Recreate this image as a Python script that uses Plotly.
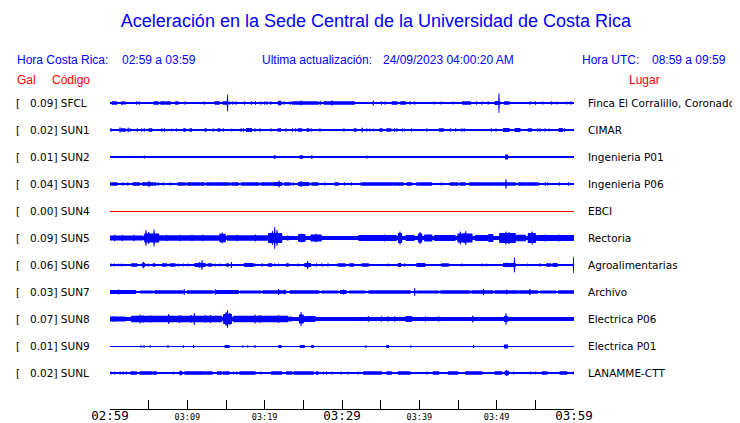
import numpy as np
import plotly.graph_objects as go

# ---------------- data ----------------
stations = ["SFCL", "SUN1", "SUN2", "SUN3", "SUN4", "SUN5", "SUN6", "SUN7", "SUN8", "SUN9", "SUNL"]
pga_gal = ["0.09", "0.02", "0.01", "0.04", "0.00", "0.09", "0.06", "0.03", "0.07", "0.01", "0.02"]
places = ["Finca El Corralillo, Coronado", "CIMAR", "Ingenieria P01", "Ingenieria P06", "EBCI",
          "Rectoria", "Agroalimentarias", "Archivo", "Electrica P06", "Electrica P01", "LANAMME-CTT"]

# background (quiet) half-amplitude of each trace, in trace units
base_amp = [1.0, 1.0, 1.0, 1.0, 0.5, 2.0, 1.0, 1.0, 2.0, 0.5, 1.0]

# bursts read from the record: [start minute, end minute, half-amplitude]
ev_SFCL = [[0.3,0.86,1.7],[1.5,1.7,1.7],[1.94,1.94,1.7],[3.45,3.45,1.8],[3.8,3.8,1.8],[5.7,6.25,1.7],
           [6.6,7.1,1.7],[7.3,7.8,1.7],[8.5,8.8,1.7],[9.7,9.7,1.8],[12.2,12.2,1.8],[13.6,14.1,1.7],
           [14.65,15.1,1.7],[15.2,15.2,8.5],[15.5,15.5,1.8],[15.9,15.9,1.8],[16.3,16.3,1.8],[17.4,17.4,1.8],
           [18.3,18.3,1.8],[18.8,18.8,1.8],[19.5,19.5,1.8],[20.0,20.0,1.8],[20.3,20.3,1.8],[20.8,20.8,1.8],
           [21.8,22.1,2.2],[22.5,22.5,1.8],[23.3,23.3,1.8],[23.6,26.9,1.7],[24.7,24.7,2.5],[27.2,27.2,2.3],
           [27.7,31.6,1.7],[28.7,28.7,2.8],[34.05,34.05,2.4],[35.1,35.1,1.8],[35.6,35.6,1.8],[36.5,37.1,1.7],
           [37.6,38.2,1.7],[38.8,38.8,1.8],[39.4,39.4,1.8],[41.9,41.9,1.5],[42.8,42.8,1.5],[44.4,44.4,1.5],
           [45.6,46.6,1.7],[47.4,47.4,1.8],[48.1,48.1,1.8],[48.9,48.9,1.8],[49.8,50.4,2.0],[50.3,50.3,10.0],
           [51.0,51.6,1.7],[54.3,54.3,1.8],[55.0,55.0,1.8],[56.0,56.0,1.5],[57.1,57.1,1.8],[57.8,57.8,1.5],
           [59.05,59.05,1.5],[59.6,59.6,1.8]]
ev_SUN1 = [[0.13,0.13,1.8],[1.29,1.29,2.7],[1.5,1.94,1.7],[2.37,2.37,2.5],[2.59,2.59,1.8],[3.53,3.53,2.2],
           [4.09,4.09,1.8],[4.44,4.44,1.8],[5.04,5.39,1.7],[6.68,6.68,1.8],[7.03,7.03,1.8],[7.97,7.97,1.5],
           [8.62,8.62,1.5],[9.57,9.78,1.7],[10.34,10.56,1.7],[12.28,12.28,1.8],[12.41,12.41,1.8],
           [13.36,13.36,1.8],[14.0,14.2,1.7],[14.66,14.66,1.8],[15.73,15.73,1.5],[16.94,16.94,1.8],
           [17.24,17.24,1.8],[17.67,18.32,2.0],[18.75,18.75,1.8],[19.4,19.4,1.8],[20.78,20.78,1.8],
           [21.77,22.03,1.7],[22.76,22.76,1.8],[23.62,23.62,1.8],[24.0,24.0,1.8],[24.35,24.78,1.7],
           [25.5,25.7,1.7],[26.0,26.0,1.8],[27.16,27.16,1.8],[30.26,30.26,1.8],[31.6,31.8,1.7],
           [32.6,32.6,2.5],[33.2,33.2,1.8],[33.6,33.6,1.5],[34.05,34.05,1.5],[34.9,35.2,1.7],[35.8,36.3,1.7],
           [36.8,36.8,1.8],[37.1,37.1,1.8],[37.8,37.8,1.8],[38.1,38.1,1.5],[39.0,39.0,1.8],[40.95,40.95,1.8],
           [42.6,43.1,1.7],[44.0,44.0,1.8],[44.7,44.7,1.8],[45.5,45.5,1.8],[45.8,45.8,1.8],[49.3,49.3,1.8],
           [49.9,49.9,1.5],[50.9,51.6,2.0],[52.4,53.0,2.0],[54.1,54.5,1.7],[55.3,55.3,1.8],[55.6,55.6,1.8],
           [56.25,56.25,1.8],[56.8,56.8,1.5],[58.1,58.5,2.0],[58.8,58.8,1.8]]
ev_SUN2 = [[4.44,4.44,1.6],[21.25,21.35,1.8],[24.6,24.9,1.8],[26.1,26.1,1.9],[33.2,33.2,1.4],[51.15,51.4,2.5]]
ev_SUN3 = [[0.1,0.9,1.7],[1.7,1.7,1.8],[2.3,2.3,1.8],[3.0,3.8,1.7],[4.2,5.9,1.8],[5.05,5.05,3.0],
           [6.25,6.25,1.8],[6.9,6.9,1.8],[7.8,7.8,1.8],[8.8,9.7,1.7],[10.0,12.2,1.7],[12.5,13.4,1.7],
           [13.6,15.4,1.7],[15.7,16.6,1.7],[17.0,19.2,1.7],[19.5,20.9,1.7],[21.1,22.2,2.0],[21.85,21.85,3.5],
           [22.6,23.3,1.7],[23.7,23.7,1.8],[24.4,25.7,2.0],[24.7,24.7,3.0],[26.1,26.9,1.8],[27.8,27.8,1.8],
           [29.1,29.5,1.7],[30.3,30.3,1.8],[31.25,31.25,1.8],[32.5,33.8,1.7],[33.95,36.4,1.7],[36.6,37.9,1.7],
           [38.4,39.0,1.7],[39.7,41.6,1.7],[42.9,42.9,1.8],[44.0,45.0,1.7],[45.3,45.9,1.7],[46.5,48.5,1.7],
           [48.7,49.6,1.7],[49.8,52.4,1.8],[51.2,51.2,5.0],[52.8,53.7,1.7],[53.9,55.2,1.7],[55.4,55.4,1.8],
           [56.3,56.3,1.8],[56.6,56.6,1.8],[58.1,58.1,1.8],[59.3,59.3,1.8]]
ev_SUN4 = []
ev_SUN5 = [[0.0,4.2,2.6],[0.6,0.6,3.2],[1.6,1.6,3.2],[3.1,3.1,3.2],[4.5,6.3,4.5],[4.65,4.65,8.0],
           [5.0,5.0,6.0],[5.7,5.7,8.5],[6.5,14.0,2.7],[7.3,7.3,3.3],[9.0,9.0,3.2],[10.6,10.6,3.3],
           [12.0,12.0,3.3],[14.2,14.9,4.2],[14.5,14.5,5.5],[15.2,20.3,2.8],[16.4,16.4,3.3],[18.8,18.8,3.5],
           [20.5,22.2,5.0],[21.0,21.0,7.0],[21.3,21.3,11.0],[21.6,21.6,8.0],[23.0,23.0,2.8],[24.4,25.2,4.0],
           [24.8,24.8,4.5],[26.0,27.3,3.5],[26.6,26.6,4.2],[32.2,37.0,3.0],[33.0,33.0,3.3],[35.5,35.5,3.4],
           [37.3,37.7,5.0],[37.5,37.5,6.5],[38.3,39.3,3.0],[39.9,40.3,4.5],[40.1,40.1,6.0],[40.7,41.6,3.5],
           [42.0,44.6,3.0],[45.0,46.8,4.5],[45.3,45.3,6.5],[45.8,45.8,5.0],[46.0,46.0,7.0],[47.3,48.9,3.0],
           [49.0,49.5,4.0],[50.4,52.4,5.0],[51.2,51.2,6.5],[51.6,51.6,6.0],[52.6,53.7,3.2],[54.1,55.0,5.0],
           [54.6,54.6,6.5],[55.2,60.0,3.0],[56.3,56.3,3.5],[58.0,58.0,3.5]]
ev_SUN6 = [[0.13,0.13,1.6],[0.56,0.56,1.6],[1.08,1.08,1.6],[1.5,1.5,1.6],[2.8,3.45,1.8],[4.2,4.5,2.0],
           [4.3,4.3,3.2],[4.95,4.95,1.6],[5.6,5.8,1.8],[6.8,7.3,1.8],[7.8,8.4,1.8],[8.8,8.8,1.6],
           [9.5,9.5,1.6],[10.1,10.1,1.6],[11.0,12.3,2.0],[11.9,11.9,5.0],[11.6,11.6,3.0],[12.7,13.1,1.8],
           [13.6,13.6,1.6],[14.2,14.2,1.6],[15.1,15.3,1.8],[15.7,15.7,3.0],[17.4,18.5,1.9],[18.75,18.75,1.6],
           [19.7,19.7,1.8],[20.5,20.9,1.8],[21.3,21.3,1.6],[21.8,21.8,1.6],[22.85,23.06,1.8],[24.3,24.3,1.6],
           [25.2,25.9,2.0],[25.55,25.55,4.0],[26.7,26.7,1.8],[27.4,27.4,1.8],[28.2,28.2,1.8],[29.5,30.4,1.8],
           [31.0,31.5,1.8],[32.6,33.4,1.8],[36.0,36.0,1.6],[37.3,37.6,1.9],[38.1,38.1,1.8],[39.7,40.7,1.9],
           [42.9,43.75,1.8],[45.5,45.5,1.4],[48.1,48.1,1.6],[48.7,48.7,1.6],[50.9,52.4,1.9],[51.3,51.3,2.5],
           [52.3,52.3,7.5],[54.0,54.0,1.5],[55.6,55.6,1.8],[56.5,57.0,1.8],[57.3,57.8,1.9],[59.93,59.93,8.0]]
ev_SUN7 = [[0.0,3.3,1.9],[1.1,1.1,2.5],[4.0,5.5,1.6],[5.8,9.4,1.8],[9.6,9.6,3.0],[10.0,13.3,1.7],
           [13.6,13.6,3.0],[13.8,16.6,1.9],[16.9,19.5,1.6],[19.8,22.7,1.8],[21.8,21.8,3.0],[22.6,22.6,2.5],
           [23.3,27.0,1.7],[27.4,29.5,1.6],[29.8,30.5,2.0],[30.2,30.2,2.6],[31.0,33.0,1.6],[33.5,38.8,1.8],
           [39.4,39.4,4.0],[39.7,42.5,1.6],[42.8,46.5,1.7],[46.8,49.5,1.8],[48.3,48.3,3.2],[49.8,52.8,1.8],
           [51.3,51.3,2.5],[53.0,55.3,1.8],[54.3,54.3,3.2],[55.7,57.6,1.6],[58.0,60.0,1.8]]
ev_SUN8 = [[0.0,1.9,2.6],[0.5,0.5,3.0],[2.8,14.4,3.2],[3.9,3.9,4.5],[4.3,4.3,3.8],[5.3,5.3,3.8],
           [7.6,7.6,5.0],[9.0,9.0,4.0],[10.5,10.5,4.0],[10.9,10.9,6.0],[12.3,12.3,4.0],[13.0,13.0,4.0],
           [14.7,15.7,5.0],[15.2,15.2,9.0],[15.0,15.0,7.0],[15.5,15.5,6.0],[16.0,23.0,3.3],[18.75,18.75,4.5],
           [19.4,19.4,4.0],[21.8,21.8,4.0],[23.4,23.4,3.0],[24.5,25.0,4.5],[24.7,24.7,7.0],[25.2,26.5,3.0],
           [33.4,33.4,3.0],[35.1,35.1,2.8],[35.9,35.9,2.8],[36.8,36.8,2.8],[38.3,39.0,3.0],[40.8,40.8,2.8],
           [42.5,42.5,2.8],[46.9,46.9,3.5],[51.2,51.2,6.0],[51.0,51.4,3.0]]
ev_SUN9 = [[4.0,4.0,1.3],[4.4,4.4,1.3],[5.2,5.2,1.3],[7.5,7.5,1.5],[9.5,9.5,1.2],[10.8,10.8,1.5],
           [14.9,15.4,1.6],[17.2,17.2,1.3],[17.8,17.8,1.3],[18.75,18.75,1.5],[21.85,22.1,1.6],[24.6,25.1,1.6],
           [26.1,26.3,1.6],[33.1,33.1,1.2],[35.8,36.0,1.6],[38.9,38.9,1.2],[47.0,47.0,1.4],[51.0,51.4,2.0]]
ev_SUNL = [[0.13,0.13,1.6],[0.56,0.56,1.6],[1.3,1.3,1.6],[1.72,1.72,1.6],[2.15,2.15,1.6],[2.7,3.4,1.7],
           [3.9,5.4,1.7],[5.6,6.0,1.7],[8.2,8.2,1.5],[9.0,9.3,1.7],[9.15,9.15,2.6],[9.7,12.3,1.7],
           [12.5,13.2,1.7],[13.9,14.4,1.7],[14.65,15.4,1.7],[15.95,15.95,1.6],[16.4,16.4,1.6],[16.8,18.75,1.7],
           [19.5,19.5,1.6],[20.9,22.2,1.7],[22.85,23.5,1.7],[23.8,26.3,1.8],[26.7,26.9,1.7],[27.6,27.6,1.6],
           [28.0,28.0,1.6],[28.7,28.7,1.6],[29.9,29.9,1.6],[30.8,30.8,1.6],[32.1,32.1,1.6],[32.8,35.1,1.7],
           [35.8,36.4,1.7],[37.3,38.8,1.7],[41.0,41.0,1.5],[41.8,42.5,1.7],[43.75,44.95,1.7],[46.0,48.1,1.7],
           [49.8,50.65,1.7],[51.1,51.5,2.2],[51.3,51.3,3.0],[52.2,52.2,1.6],[54.4,54.4,1.6],[55.0,55.0,1.6],
           [55.9,56.5,1.7],[58.2,59.05,1.7],[59.9,59.9,1.6]]
events = [ev_SFCL, ev_SUN1, ev_SUN2, ev_SUN3, ev_SUN4, ev_SUN5, ev_SUN6, ev_SUN7, ev_SUN8, ev_SUN9, ev_SUNL]

tick_minutes = list(range(0, 61, 5))
tick_labels = ["02:59", "", "03:09", "", "03:19", "", "03:29", "", "03:39", "", "03:49", "", "03:59"]
big_labels = ["02:59", "03:29", "03:59"]

# ---------------- styling / layout ----------------
trace_colors = ["#0000ff"] * 4 + ["#ff0000"] + ["#0000ff"] * 6
pixel_snap = [0, 0, 0, 0, 0.5, 0, 0, 0, 0, 0.5, 0]   # keeps 1 px lines on a pixel row

OFF = 8                       # page body margin of the browser
W, H = 740 - OFF, 423 - OFF
ML, MT = 110 - OFF, 88 - OFF
PW, PH = 464, 321
MR = W - ML - PW
MB = H - MT - PH
SPACING = 27
FIRST = 15

t = np.arange(0, 60.0001, 0.05)
fig = go.Figure()
for i, st in enumerate(stations):
    y0 = -(FIRST + SPACING * i) - pixel_snap[i]
    env = np.full_like(t, base_amp[i])
    for s, e, a in events[i]:
        m = (t >= s - 0.07) & (t <= e + 0.07)
        env[m] = np.maximum(env[m], a)
    xs = np.concatenate([t, t[::-1]])
    ys = np.concatenate([y0 + env, (y0 - env)[::-1]])
    fig.add_trace(go.Scatter(x=xs, y=ys, fill="toself", fillcolor=trace_colors[i],
                             mode="lines", line=dict(width=0, color=trace_colors[i], simplify=False),
                             hoverinfo="skip", showlegend=False))

def px_x(p):
    return (p - OFF - ML) / PW

def px_y(p):
    return (H - MB - (p - OFF)) / PH

ann = []
lab_font = dict(family="DejaVu Sans", size=10.5, color="black")
for i, st in enumerate(stations):
    y0 = -(FIRST + SPACING * i) + 0.5
    ann.append(dict(x=px_x(14), y=y0, xref="paper", yref="y", text="[", showarrow=False,
                    xanchor="left", yanchor="middle", font=lab_font))
    ann.append(dict(x=px_x(28), y=y0, xref="paper", yref="y", text=f"{pga_gal[i]}] {st}",
                    showarrow=False, xanchor="left", yanchor="middle", font=lab_font))
    ann.append(dict(x=px_x(586), y=y0, xref="paper", yref="y", text=places[i], showarrow=False,
                    xanchor="left", yanchor="middle", font=lab_font))

hdr = dict(family="Liberation Sans, Arial", size=12, color="#0000ff")
red = dict(family="Liberation Sans, Arial", size=12, color="#ff0000")
for txt, px, py, f in [("Hora Costa Rica:", 15, 60, hdr), ("02:59 a 03:59", 120, 60, hdr),
                       ("Ultima actualización:", 260, 60, hdr), ("24/09/2023 04:00:20 AM", 381, 60, hdr),
                       ("Hora UTC:", 580, 60, hdr), ("08:59 a 09:59", 650, 60, hdr),
                       ("Gal", 15, 80, red), ("Código", 50, 80, red), ("Lugar", 627, 80, red)]:
    ann.append(dict(x=px_x(px), y=px_y(py), xref="paper", yref="paper", text=txt, showarrow=False,
                    xanchor="left", yanchor="middle", font=f))

ticktext = [f'<span style="font-size:12.5px">{s}</span>' if s in big_labels else s for s in tick_labels]

fig.update_layout(
    width=W, height=H,
    margin=dict(l=ML, r=MR, t=MT, b=MB, pad=0, autoexpand=False),
    paper_bgcolor="white", plot_bgcolor="white",
    title=dict(text="Aceleración en la Sede Central de la Universidad de Costa Rica",
               x=(376 - OFF) / W, xanchor="center", y=1 - (21 - OFF) / H, yanchor="middle",
               yref="container",
               font=dict(family="Liberation Sans, Arial", size=18, color="#0000ff")),
    xaxis=dict(range=[0, 60], tickvals=tick_minutes, ticktext=ticktext, ticks="inside", ticklen=9,
               tickwidth=1, tickcolor="black", showline=True, linecolor="black", linewidth=1,
               showgrid=False, zeroline=False, fixedrange=True, automargin=False,
               tickfont=dict(family="DejaVu Sans Mono", size=8.5, color="black")),
    yaxis=dict(range=[-PH, 0], visible=False, fixedrange=True, automargin=False),
    annotations=ann,
    showlegend=False,
)

fig.write_html("out.html")
